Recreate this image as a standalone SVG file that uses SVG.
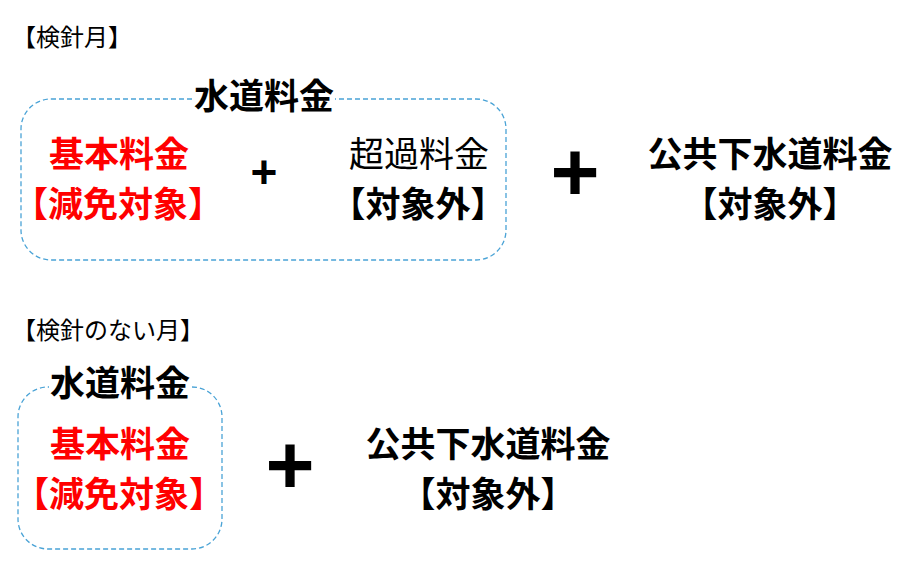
<svg xmlns="http://www.w3.org/2000/svg" width="923" height="583" viewBox="0 0 923 583">
<style>
text{font-family:"Noto Sans CJK JP","Noto Sans",sans-serif;text-anchor:middle}
.lbl{font-size:24px;fill:#000;text-anchor:start}
.b{font-size:35px;font-weight:bold;fill:#000}
.r{font-size:35px;font-weight:bold;fill:#ff0000}
.n{font-size:35px;fill:#000}
.plus{font-family:"Liberation Sans",Arial,sans-serif;font-weight:bold;fill:#000}
.box{fill:none;stroke:#4aa3d6;stroke-width:1.3;stroke-dasharray:5 3}
</style>
<rect width="923" height="583" fill="#fff"/>
<text class="lbl" x="12" y="46">【検針月】</text>
<text class="lbl" x="12" y="339">【検針のない月】</text>
<g id="connectors"></g>
<g id="water1">
<rect class="box" x="21" y="99" width="485" height="161" rx="30"/>
<rect x="194" y="84" width="141" height="30" fill="#fff"/>
<text class="b" x="264" y="109">水道料金</text>
</g>
<g id="basic1">
<text class="r" x="119" y="167">基本料金</text>
<text class="r" x="118" y="217">【減免対象】</text>
</g>
<g id="plus1"><text class="plus" x="264" y="188" font-size="46">+</text></g>
<g id="excess1">
<text class="n" x="419" y="167">超過料金</text>
<text class="b" x="418" y="217">【対象外】</text>
</g>
<g id="plus2"><text class="plus" x="575" y="201" font-size="84">+</text></g>
<g id="sewer1">
<text class="b" x="770" y="167">公共下水道料金</text>
<text class="b" x="770" y="217">【対象外】</text>
</g>
<g id="water2">
<rect class="box" x="18" y="387" width="204" height="162" rx="30"/>
<rect x="49" y="372" width="142" height="28" fill="#fff"/>
<text class="b" x="120" y="396">水道料金</text>
</g>
<g id="basic2">
<text class="r" x="120" y="457">基本料金</text>
<text class="r" x="119" y="507">【減免対象】</text>
</g>
<g id="plus3"><text class="plus" x="290" y="494" font-size="84">+</text></g>
<g id="sewer2">
<text class="b" x="488" y="457">公共下水道料金</text>
<text class="b" x="488" y="507">【対象外】</text>
</g>
</svg>
